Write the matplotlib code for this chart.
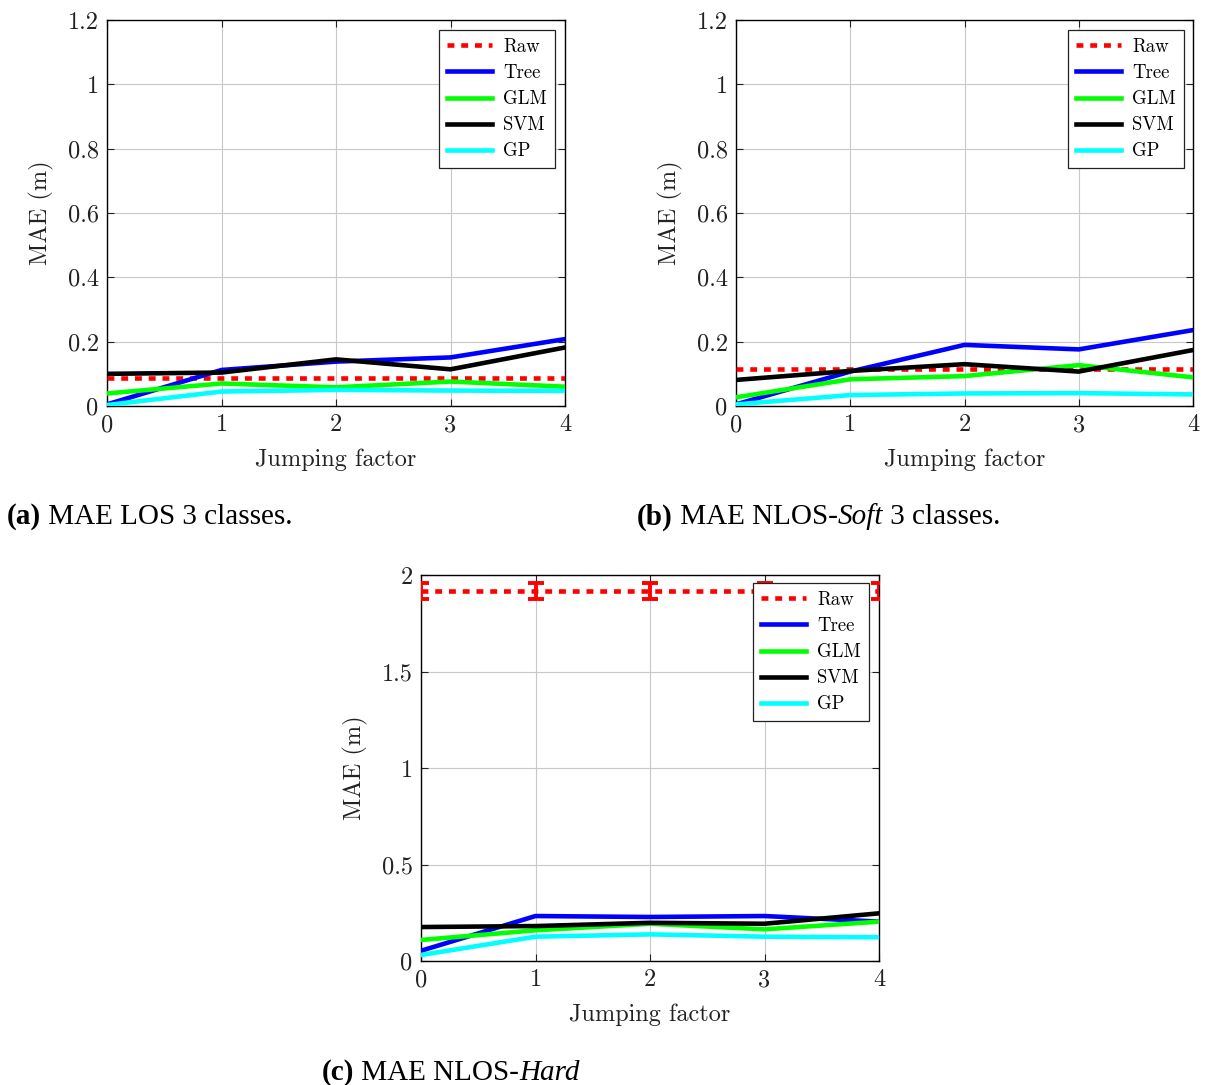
import matplotlib
matplotlib.use("Agg")
import matplotlib.pyplot as plt
from matplotlib.lines import Line2D

plt.rcParams['font.family'] = 'serif'
plt.rcParams['font.serif'] = ['cmr10', 'DejaVu Serif']
plt.rcParams['mathtext.fontset'] = 'cm'
plt.rcParams['axes.formatter.use_mathtext'] = True

x = [0, 1, 2, 3, 4]
series_names = ["Raw", "Tree", "GLM", "SVM", "GP"]

# Panel (a) MAE LOS 3 classes
a_raw = [0.087, 0.087, 0.087, 0.087, 0.087]
a_tree = [0.005, 0.112, 0.138, 0.151, 0.208]
a_glm = [0.039, 0.070, 0.058, 0.076, 0.060]
a_svm = [0.100, 0.104, 0.145, 0.114, 0.182]
a_gp = [0.003, 0.045, 0.050, 0.048, 0.047]

# Panel (b) MAE NLOS-Soft 3 classes
b_raw = [0.116, 0.116, 0.116, 0.116, 0.116]
b_tree = [0.005, 0.107, 0.190, 0.176, 0.236]
b_glm = [0.027, 0.083, 0.093, 0.127, 0.089]
b_svm = [0.081, 0.109, 0.130, 0.107, 0.174]
b_gp = [0.005, 0.034, 0.039, 0.040, 0.036]

# Panel (c) MAE NLOS-Hard
c_raw = [1.918, 1.918, 1.918, 1.918, 1.918]
c_raw_err = [0.04, 0.04, 0.04, 0.04, 0.04]
c_tree = [0.053, 0.233, 0.228, 0.233, 0.204]
c_glm = [0.109, 0.159, 0.193, 0.164, 0.204]
c_svm = [0.176, 0.181, 0.198, 0.193, 0.247]
c_gp = [0.031, 0.126, 0.138, 0.126, 0.123]

colors = {"Raw": "#ff0000", "Tree": "#0000ff", "GLM": "#00ff00",
          "SVM": "#000000", "GP": "#00ffff"}

W, H = 1206, 1085
fig = plt.figure(figsize=(W / 100, H / 100), dpi=100)

LW = 3.3
DASH = (1.5, 1.5)
TICK_FS = 17.5
LEG_FS = 13.5


def add_ax(l, r, t, b):
    return fig.add_axes([l / W, 1 - b / H, (r - l) / W, (b - t) / H])


def draw(ax, data, ylim, yticks, yticklabels, raw_err=None, legend_anchor=None):
    raw, tree, glm, svm, gp = data
    if raw_err is not None:
        ax.errorbar(x, raw, yerr=raw_err, color=colors["Raw"], lw=LW,
                    dashes=DASH, capsize=6, capthick=2.8, elinewidth=2.8,
                    zorder=3)
    else:
        ax.plot(x, raw, color=colors["Raw"], lw=LW, dashes=DASH, zorder=3)
    ax.plot(x, tree, color=colors["Tree"], lw=LW, zorder=3)
    ax.plot(x, glm, color=colors["GLM"], lw=LW, zorder=3)
    ax.plot(x, svm, color=colors["SVM"], lw=LW, zorder=3)
    ax.plot(x, gp, color=colors["GP"], lw=LW, zorder=3)
    ax.set_xlim(0, 4)
    ax.set_ylim(*ylim)
    ax.set_xticks(x)
    ax.set_xticklabels([str(v) for v in x])
    ax.set_yticks(yticks)
    ax.set_yticklabels(yticklabels)
    ax.grid(True, color="#c8c8c8", lw=0.8)
    ax.set_axisbelow(True)
    ax.tick_params(direction="in", top=True, right=True, labelsize=TICK_FS,
                   length=5, width=0.8, pad=6, colors="#222222", labelcolor="#222222")
    for s in ax.spines.values():
        s.set_linewidth(1.0)
    ax.set_xlabel("Jumping factor", fontsize=TICK_FS, labelpad=9, color="#222222")
    ax.set_ylabel("MAE (m)", fontsize=TICK_FS, labelpad=10, color="#222222")
    hs = [Line2D([], [], color=colors["Raw"], lw=LW, dashes=DASH)]
    for n in series_names[1:]:
        hs.append(Line2D([], [], color=colors[n], lw=LW))
    leg = ax.legend(hs, series_names, loc="upper right", bbox_to_anchor=legend_anchor,
                    fontsize=LEG_FS, frameon=True, fancybox=False, edgecolor="#222222",
                    framealpha=1, handlelength=2.4, handletextpad=0.6,
                    labelspacing=0.44, borderpad=0.42, borderaxespad=0)
    leg.get_frame().set_linewidth(0.9)
    leg.set_zorder(5)


ax_a = add_ax(107, 565, 20, 406)
draw(ax_a, [a_raw, a_tree, a_glm, a_svm, a_gp], (0, 1.2),
     [0, 0.2, 0.4, 0.6, 0.8, 1.0, 1.2], ["0", "0.2", "0.4", "0.6", "0.8", "1", "1.2"],
     legend_anchor=((555 - 107) / (565 - 107), 1 - (30 - 20) / 386))

ax_b = add_ax(736, 1193, 20, 406)
draw(ax_b, [b_raw, b_tree, b_glm, b_svm, b_gp], (0, 1.2),
     [0, 0.2, 0.4, 0.6, 0.8, 1.0, 1.2], ["0", "0.2", "0.4", "0.6", "0.8", "1", "1.2"],
     legend_anchor=((1184 - 736) / (1193 - 736), 1 - (30 - 20) / 386))

ax_c = add_ax(421, 879, 575, 961)
draw(ax_c, [c_raw, c_tree, c_glm, c_svm, c_gp], (0, 2.0),
     [0, 0.5, 1.0, 1.5, 2.0], ["0", "0.5", "1", "1.5", "2"],
     raw_err=c_raw_err,
     legend_anchor=((869 - 421) / (879 - 421), 1 - (583 - 575) / 386))

cap_font = ['Liberation Serif', 'DejaVu Serif']


def caption(px, py, parts):
    xx = px / W
    yy = 1 - py / H
    renderer = fig.canvas.get_renderer()
    for text, weight, style in parts:
        t = fig.text(xx, yy, text, fontsize=21, family=cap_font, weight=weight,
                     style=style, va="center", ha="left")
        bb = t.get_window_extent(renderer=renderer)
        xx += bb.width / W


caption(7, 517, [("(a)", "bold", "normal"), (" MAE LOS 3 classes.", "normal", "normal")])
caption(637, 517, [("(b)", "bold", "normal"), (" MAE NLOS-", "normal", "normal"),
                   ("Soft", "normal", "italic"), (" 3 classes.", "normal", "normal")])
caption(322, 1073, [("(c)", "bold", "normal"), (" MAE NLOS-", "normal", "normal"),
                    ("Hard", "normal", "italic")])

fig.savefig("out.png", dpi=100)
